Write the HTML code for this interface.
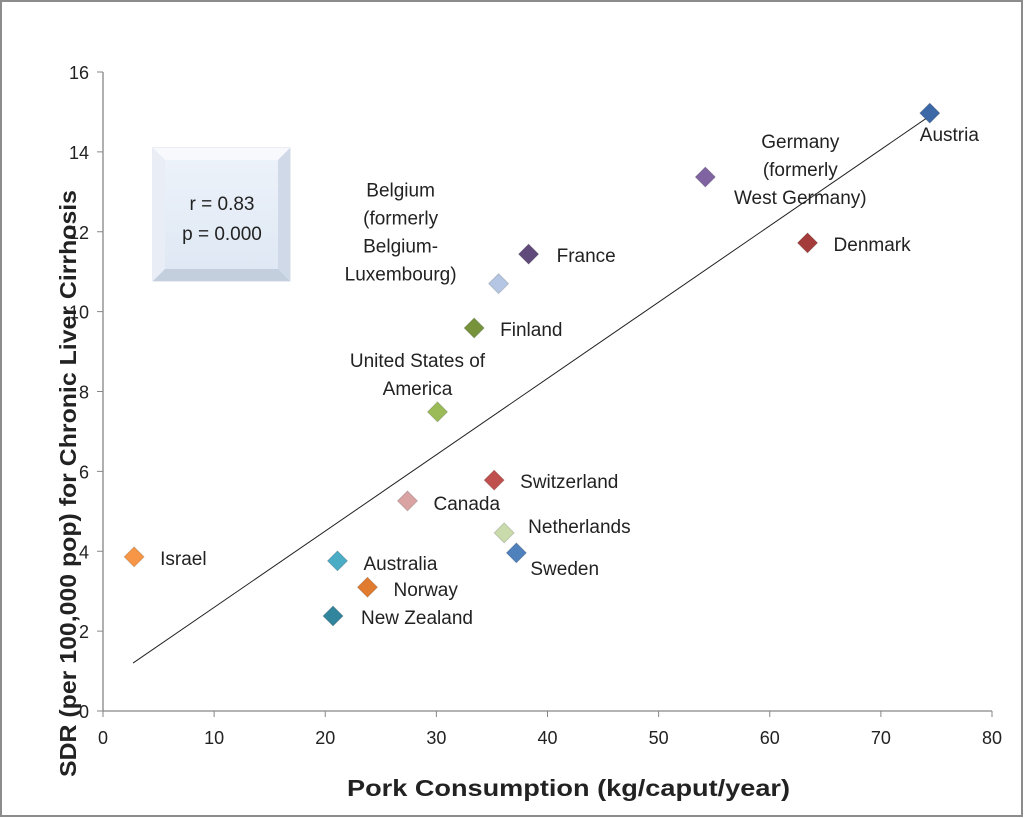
<!DOCTYPE html>
<html><head><meta charset="utf-8">
<style>
body{margin:0;background:#fff;}
svg{display:block;font-family:"Liberation Sans","DejaVu Sans",sans-serif;}
</style></head>
<body>
<svg id="chart" width="1024" height="818" viewBox="0 0 1024 818">
  <defs>
    <linearGradient id="boxg" x1="0" y1="0" x2="0" y2="1">
      <stop offset="0" stop-color="#eef3fa"/><stop offset="1" stop-color="#dde7f3"/>
    </linearGradient>
  </defs>
  <rect x="1" y="1" width="1021" height="815" fill="#fff" stroke="#8c8c8c" stroke-width="2"/>
  <g id="axes"></g>
  <g id="marks"></g>
  <g>
    <rect x="153" y="148" width="137" height="133" fill="url(#boxg)" stroke="#d6dde8"/>
    <polygon points="153,148 290,148 278,160 165,160" fill="#f7f9fc"/>
    <polygon points="153,148 165,160 165,269 153,281" fill="#e9eef6"/>
    <polygon points="290,148 278,160 278,269 290,281" fill="#cfd9e7"/>
    <polygon points="153,281 165,269 278,269 290,281" fill="#c4cfde"/>
    <text x="222" y="210" font-size="19" text-anchor="middle" fill="#222">r = 0.83</text>
    <text x="222" y="240" font-size="19" text-anchor="middle" fill="#222">p = 0.000</text>
  </g>
  <text x="347" y="796" font-size="23" font-weight="bold" textLength="443" lengthAdjust="spacingAndGlyphs" fill="#222">Pork Consumption (kg/caput/year)</text>
  <text transform="translate(76,777) rotate(-90)" font-size="23" font-weight="bold" textLength="587" lengthAdjust="spacingAndGlyphs" fill="#222">SDR (per 100,000 pop) for Chronic Liver Cirrhosis</text>
</svg>
<script>
const countries = ["Israel","Australia","Norway","New Zealand","Canada","United States","Finland","Belgium","France","Switzerland","Netherlands","Sweden","Germany","Denmark","Austria"];
const porkValues = [2.8,21.1,23.8,20.7,27.4,30.1,33.4,35.6,38.3,35.2,36.1,37.2,54.2,63.4,74.4];
const sdrValues = [3.86,3.76,3.1,2.38,5.26,7.49,9.59,10.7,11.44,5.78,4.46,3.96,13.37,11.72,14.97];
const colors = ["#f79646","#4bacc6","#e07b30","#31859c","#d9a3a3","#9bbb59","#76933c","#b4c6e4","#604a7b","#c0504d","#c9dbab","#4f81bd","#8064a2","#a33c3a","#3d68a8"];
const labels = [["Israel"],["Australia"],["Norway"],["New Zealand"],["Canada"],["United States of","America"],["Finland"],["Belgium","(formerly","Belgium-","Luxembourg)"],["France"],["Switzerland"],["Netherlands"],["Sweden"],["Germany","(formerly","West Germany)"],["Denmark"],["Austria"]];
const labelOffsets = [[26,8],[26,9],[26,9],[28,8],[26,9],[-20,-45],[26,8],[-98,-87],[28,8],[26,8],[24,0],[14,22],[95,-29],[26,8],[-10,28]];
const xTicks = [0,10,20,30,40,50,60,70,80];
const yTicks = [0,2,4,6,8,10,12,14,16];
const trendX = [2.7,74.4];
const trendY = [1.2,14.9];

const X0=103,X1=992,Y0=711,Y1=72;
const sx = v => X0 + (v-0)/(80-0)*(X1-X0);
const sy = v => Y0 - (v-0)/(16-0)*(Y0-Y1);
const NS="http://www.w3.org/2000/svg";
function mk(tag, attrs, parent){const e=document.createElementNS(NS,tag);for(const k in attrs)e.setAttribute(k,attrs[k]);parent.appendChild(e);return e;}
const axes=document.getElementById('axes'), marks=document.getElementById('marks');

const xa=mk('line',{x1:X0,y1:Y0,x2:X1,y2:Y0,stroke:'#868686','stroke-width':1.3},axes);


const ya=mk('line',{x1:X0,y1:Y0,x2:X0,y2:Y1,stroke:'#868686','stroke-width':1.3},axes);


xTicks.forEach(t=>{
  mk('line',{x1:sx(t),y1:Y0,x2:sx(t),y2:Y0+6,stroke:'#868686'},axes);
  const tx=mk('text',{x:sx(t),y:Y0+33,'font-size':18,'text-anchor':'middle',fill:'#222'},axes);
  tx.textContent=t;
  
  
});
yTicks.forEach(t=>{
  mk('line',{x1:X0-6,y1:sy(t),x2:X0,y2:sy(t),stroke:'#868686'},axes);
  const tx=mk('text',{x:X0-14,y:sy(t)+7,'font-size':18,'text-anchor':'end',fill:'#222'},axes);
  tx.textContent=t;
  
  
});

const tl=mk('line',{x1:sx(trendX[0]),y1:sy(trendY[0]),x2:sx(trendX[1]),y2:sy(trendY[1]),stroke:'#222','stroke-width':1},marks);



countries.forEach((c,i)=>{
  const cx=sx(porkValues[i]), cy=sy(sdrValues[i]), r=10;
  const p=mk('polygon',{points:`${cx},${cy-r} ${cx+r},${cy} ${cx},${cy+r} ${cx-r},${cy}`,fill:colors[i],stroke:'rgba(0,0,0,0.15)'},marks);
  
  
  const lines=labels[i], off=labelOffsets[i];
  const multi=lines.length>1;
  lines.forEach((ln,j)=>{
    const t=mk('text',{x:cx+off[0],y:cy+off[1]+j*(multi?28:0),'font-size':19,fill:'#222','text-anchor':multi?'middle':'start'},marks);
    t.textContent=ln;
    
    
  });
});
</script>
</body></html>
